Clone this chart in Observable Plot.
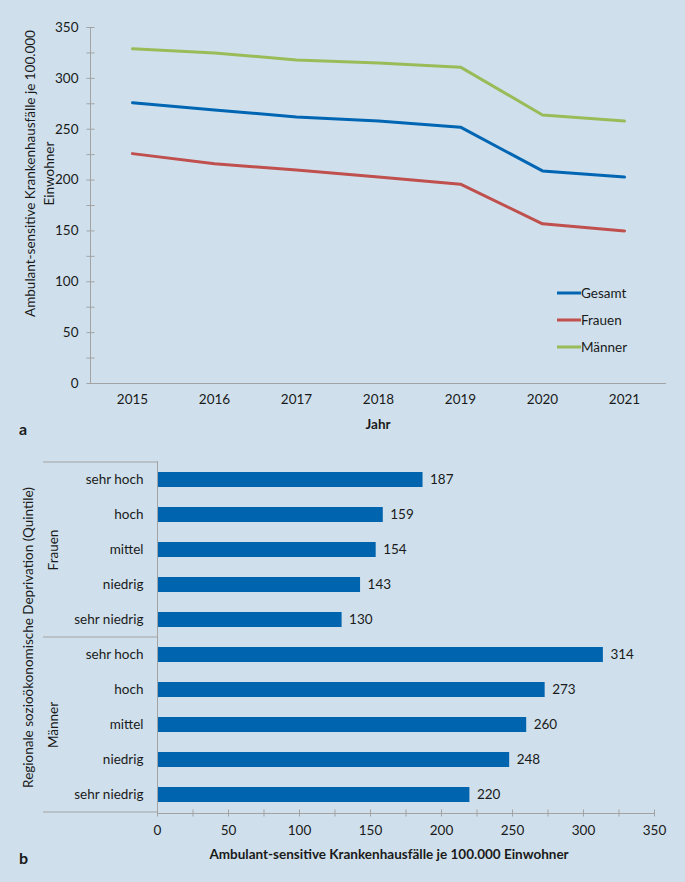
<!DOCTYPE html>
<html><head><meta charset="utf-8">
<script src="https://cdn.jsdelivr.net/npm/d3@7"></script>
<script src="https://cdn.jsdelivr.net/npm/@observablehq/plot@0.6"></script>
<style>
html,body{margin:0;padding:0;background:#cfe0ec;}
#root{position:relative;width:685px;height:882px;background:#cfe0ec;font-family:Lato,"Open Sans",sans-serif;color:#1a1a1a;overflow:hidden}
#chartA,#chartB{position:absolute;left:0}
#chartA{top:0}
#chartB{top:445px}
.panel{position:absolute;font-weight:bold;font-size:16px;line-height:16px}
#legend{position:absolute;left:557px;top:279px;font-size:13.5px}
#legend .row{display:flex;align-items:center;height:27px}
#legend svg{display:block}
</style></head><body>
<div id="root">
  <div id="chartA"></div>
  <div id="chartB"></div>
  <div class="panel" style="left:19px;top:421px">a</div>
  <div class="panel" style="left:19px;top:850px">b</div>
  <div id="legend"></div>
</div>
<script>
// ---- Data, panel a ----
const years = [2015, 2016, 2017, 2018, 2019, 2020, 2021];
const gesamt = [276, 269, 262, 258, 252, 209, 203];
const frauen = [226, 216, 210, 203, 196, 157, 150];
const maenner = [329, 325, 318, 315, 311, 264, 258];
const seriesNames = ["Gesamt", "Frauen", "Männer"];
const seriesColors = ["#0066b3", "#c0504d", "#9bbb59"];
const yTicksA = [0, 50, 100, 150, 200, 250, 300, 350];
const yMinorTicksA = [0, 25, 50, 75, 100, 125, 150, 175, 200, 225, 250, 275, 300, 325, 350];
const yLabelA = "Ambulant-sensitive Krankenhausfälle je 100.000\nEinwohner";
const xLabelA = "Jahr";

// ---- Data, panel b ----
const quintiles = ["sehr hoch", "hoch", "mittel", "niedrig", "sehr niedrig"];
const sexes = ["Frauen", "Männer"];
const frauenQ = [187, 159, 154, 143, 130];
const maennerQ = [314, 273, 260, 248, 220];
const xTicksB = [0, 50, 100, 150, 200, 250, 300, 350];
const xMinorTicksB = [0, 25, 50, 75, 100, 125, 150, 175, 200, 225, 250, 275, 300, 325, 350];
const yLabelB = "Regionale sozioökonomische Deprivation (Quintile)";
const xLabelB = "Ambulant-sensitive Krankenhausfälle je 100.000 Einwohner";

const axisColor = "#a3a3a3";
const textColor = "#1a1a1a";
const barColor = "#0064ae";
const font = "Lato, 'Open Sans', sans-serif";

// ---- Panel a ----
const seriesValues = [gesamt, frauen, maenner];
const lineData = seriesNames.flatMap((s, i) => years.map((yr, j) => ({series: s, year: yr, value: seriesValues[i][j]})));

const chartA = Plot.plot({
  width: 685, height: 445,
  marginLeft: 90, marginRight: 20, marginTop: 27, marginBottom: 62,
  style: {background: "transparent", fontFamily: font, fontSize: "13px", color: textColor},
  x: {type: "point", domain: years, padding: 0.5},
  y: {domain: [0, 350]},
  color: {domain: seriesNames, range: seriesColors},
  marks: [
    Plot.frame({anchor: "left", stroke: axisColor, strokeOpacity: 1}),
    Plot.frame({anchor: "bottom", stroke: axisColor, strokeOpacity: 1}),
    Plot.axisY({ticks: yMinorTicksA, tickSize: 8, dx: 4.5, tickFormat: () => "", label: null, stroke: axisColor, strokeOpacity: 1}),
    Plot.axisY({ticks: yTicksA, tickSize: 0, tickPadding: 12, label: null, fontSize: 13.5}),
    Plot.axisX({tickSize: 0, tickPadding: 11, label: null, tickFormat: d => String(d), fontSize: 13.5}),
    Plot.line(lineData, {x: "year", y: "value", z: "series", stroke: "series", strokeWidth: 3}),
    Plot.text([yLabelA], {frameAnchor: "left", textAnchor: "middle", lineAnchor: "middle", rotate: -90, dx: -52, dy: -32, fontSize: 13.5, lineHeight: 1.4, fill: textColor}),
    Plot.text([xLabelA], {frameAnchor: "bottom", dy: 45, fontWeight: "bold", fontSize: 13.5, fill: textColor})
  ]
});
document.getElementById("chartA").appendChild(chartA);

// legend (HTML)
const legend = d3.select("#legend");
seriesNames.forEach((s, i) => {
  const row = legend.append("div").attr("class", "row");
  const sv = row.append("svg").attr("width", 24).attr("height", 6);
  sv.append("line").attr("x1", 0).attr("x2", 24).attr("y1", 3).attr("y2", 3)
    .attr("stroke", seriesColors[i]).attr("stroke-width", 3);
  row.append("span").text(s);
});

// ---- Panel b ----
const groupValues = [frauenQ, maennerQ];
const barData = sexes.flatMap((s, i) => quintiles.map((q, j) => ({sex: s, q, key: s + "|" + q, value: groupValues[i][j]})));
const keys = barData.map(d => d.key);

const chartB = Plot.plot({
  width: 685, height: 437,
  marginLeft: 157, marginRight: 31, marginTop: 16, marginBottom: 69,
  style: {background: "transparent", fontFamily: font, fontSize: "13px", color: textColor},
  x: {domain: [0, 350]},
  y: {type: "band", domain: keys, padding: 0},
  marks: [
    Plot.barX(barData, {x: "value", y: "key", fill: barColor, insetTop: 10, insetBottom: 10}),
    Plot.text(barData, {x: "value", y: "key", text: d => String(d.value), dx: 7, textAnchor: "start", fontSize: 13.5, fill: textColor}),
    Plot.axisY({tickSize: 0, tickPadding: 14, tickFormat: k => k.split("|")[1], label: null, fontSize: 13.5}),
    Plot.axisX({ticks: xMinorTicksB, tickSize: 7, dy: -3.5, tickFormat: () => "", label: null, stroke: axisColor, strokeOpacity: 1}),
    Plot.axisX({ticks: xTicksB, tickSize: 0, tickPadding: 12, label: null, fontSize: 13.5}),
    Plot.ruleX([0], {stroke: axisColor}),
    Plot.frame({anchor: "bottom", stroke: axisColor, strokeOpacity: 1}),
    Plot.text(sexes, {y: d => d + "|mittel", text: d => d, frameAnchor: "left", textAnchor: "middle", lineAnchor: "middle", rotate: -90, dx: -104, fontSize: 13.5, fill: textColor}),
    Plot.text([yLabelB], {frameAnchor: "left", textAnchor: "middle", lineAnchor: "middle", rotate: -90, dx: -129, fontSize: 13.5, fill: textColor}),
    Plot.text([xLabelB], {frameAnchor: "bottom", dx: -17, dy: 45, fontWeight: "bold", fontSize: 13.5, fill: textColor})
  ]
});
document.getElementById("chartB").appendChild(chartB);

// category-group dividers in the left margin, placed with Plot's own scales
const ys = chartB.scale("y");
const xs = chartB.scale("x");
const dividerLeft = 43;
const x0 = xs.apply(0);
const groupEdges = [ys.apply(keys[0]), ys.apply(sexes[1] + "|" + quintiles[0]), ys.apply(keys[keys.length - 1]) + ys.bandwidth];
const svgB = d3.select(chartB.tagName.toLowerCase() === "svg" ? chartB : chartB.querySelector("svg"));
svgB.append("g").selectAll("line").data(groupEdges).join("line")
  .attr("x1", dividerLeft).attr("x2", x0)
  .attr("y1", d => d).attr("y2", d => d)
  .attr("stroke", axisColor);
</script>
</body></html>
